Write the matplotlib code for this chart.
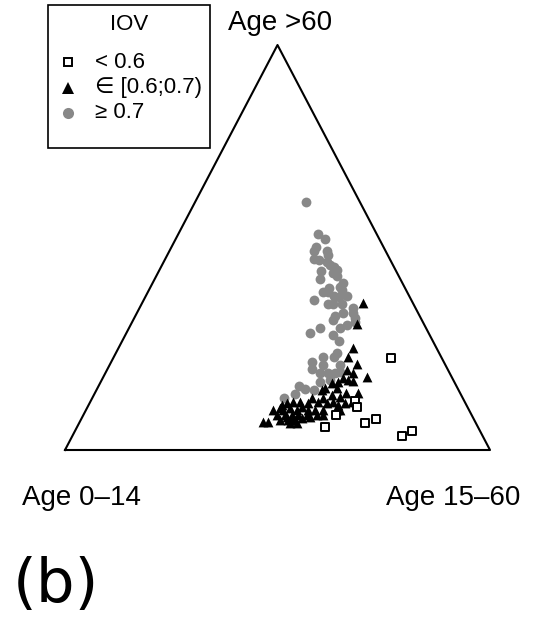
import numpy as np
import matplotlib.pyplot as plt
from matplotlib.lines import Line2D
from matplotlib.patches import Rectangle

plt.rcParams['font.family'] = ['Liberation Sans', 'DejaVu Sans']

# shares of the population (age 15-60, age >60); age 0-14 = rest
# IOV >= 0.7
hi_15 = [0.262, 0.329, 0.352, 0.340, 0.341, 0.371, 0.379, 0.351, 0.364, 0.385,
         0.396, 0.408, 0.418, 0.382, 0.412, 0.426, 0.389, 0.448, 0.446, 0.422,
         0.412, 0.424, 0.455, 0.443, 0.474, 0.456, 0.401, 0.439, 0.451, 0.472,
         0.503, 0.485, 0.470, 0.520, 0.509, 0.525, 0.510, 0.497, 0.470, 0.432,
         0.450, 0.489, 0.510, 0.520, 0.518, 0.492, 0.473, 0.502, 0.542, 0.481,
         0.505, 0.524, 0.540, 0.551, 0.516, 0.537, 0.472, 0.490, 0.512, 0.472,
         0.451]
hi_60 = [0.612, 0.533, 0.521, 0.501, 0.491, 0.491, 0.481, 0.472, 0.469, 0.464,
         0.457, 0.452, 0.444, 0.442, 0.437, 0.430, 0.422, 0.412, 0.402, 0.400,
         0.390, 0.390, 0.395, 0.380, 0.380, 0.378, 0.370, 0.360, 0.360, 0.360,
         0.351, 0.338, 0.331, 0.326, 0.338, 0.316, 0.309, 0.301, 0.321, 0.289,
         0.301, 0.284, 0.269, 0.240, 0.230, 0.230, 0.217, 0.210, 0.210, 0.200,
         0.190, 0.190, 0.190, 0.193, 0.168, 0.173, 0.158, 0.151, 0.148, 0.138,
         0.128]
# IOV in [0.6;0.7)
mid_15 = [0.520, 0.532, 0.552, 0.551, 0.581, 0.565, 0.583, 0.621, 0.565, 0.580,
          0.593, 0.559, 0.546, 0.535, 0.531, 0.564, 0.591, 0.619, 0.560, 0.582,
          0.543, 0.517, 0.616, 0.601, 0.587, 0.572, 0.559, 0.536, 0.514, 0.494,
          0.477, 0.464, 0.455, 0.598, 0.558, 0.539, 0.523, 0.505, 0.497, 0.478,
          0.464, 0.454, 0.440, 0.456, 0.475, 0.491, 0.505, 0.526, 0.550, 0.564,
          0.591, 0.469, 0.488, 0.504, 0.518, 0.536, 0.431, 0.443, 0.496, 0.513,
          0.497, 0.482]
mid_60 = [0.363, 0.311, 0.252, 0.230, 0.212, 0.198, 0.190, 0.180, 0.178, 0.173,
          0.170, 0.168, 0.165, 0.153, 0.148, 0.153, 0.141, 0.141, 0.136, 0.131,
          0.128, 0.128, 0.119, 0.116, 0.111, 0.119, 0.116, 0.119, 0.116, 0.119,
          0.119, 0.116, 0.111, 0.099, 0.099, 0.099, 0.099, 0.106, 0.099, 0.104,
          0.099, 0.104, 0.099, 0.086, 0.086, 0.086, 0.086, 0.086, 0.086, 0.086,
          0.099, 0.074, 0.074, 0.074, 0.079, 0.081, 0.069, 0.069, 0.067, 0.067,
          0.079, 0.081]
# IOV < 0.6
lo_15 = [0.654, 0.622, 0.634, 0.595, 0.584, 0.673, 0.694, 0.776, 0.793]
lo_60 = [0.227, 0.121, 0.106, 0.086, 0.057, 0.067, 0.077, 0.035, 0.047]

corner_labels = ['Age 0\u201314', 'Age 15\u201360', 'Age >60']
legend_labels = ['< 0.6', '\u2208 [0.6;0.7)', '\u2265 0.7']

W, H = 539, 620


def tern(p15, p60):
    p15 = np.asarray(p15)
    p60 = np.asarray(p60)
    return p15 + 0.5 * p60, p60


def fx(px):
    return px / W


def fy(py):
    return 1 - py / H


fig = plt.figure(figsize=(W / 100, H / 100), dpi=100)
ax = fig.add_axes([fx(65), 170 / H, 425 / W, 405 / H])
ax.set_xlim(0, 1)
ax.set_ylim(0, 1)
ax.axis('off')

ax.plot([0, 1, 0.5, 0], [0, 0, 1, 0], color='black', lw=1.5, clip_on=False)

x, y = tern(hi_15, hi_60)
ax.scatter(x, y, s=50, marker='o', color='#888888', linewidths=0, clip_on=False)
x, y = tern(mid_15, mid_60)
ax.scatter(x, y, s=50, marker='^', color='black', linewidths=0, clip_on=False)
x, y = tern(lo_15, lo_60)
ax.scatter(x, y, s=28, marker='s', facecolor='white', edgecolor='black',
           linewidths=1.4, clip_on=False)

fig.text(fx(22), fy(498), corner_labels[0], fontsize=20, va='center', ha='left')
fig.text(fx(520), fy(498), corner_labels[1], fontsize=20, va='center', ha='right')
fig.text(fx(280), fy(23), corner_labels[2], fontsize=20, va='center', ha='center')

# legend box drawn by hand
fig.add_artist(Rectangle((fx(48), fy(148)), 162 / W, 143 / H, transform=fig.transFigure,
                         facecolor='white', edgecolor='black', lw=1.2))
fig.text(fx(129), fy(25), 'IOV', fontsize=16, ha='center', va='center')
styles = [dict(marker='s', ms=6, mfc='white', mec='black', mew=1.4),
          dict(marker='^', ms=8, mfc='black', mec='black', mew=0),
          dict(marker='o', ms=8, mfc='#888888', mec='#888888', mew=0)]
for row, (lab, st) in enumerate(zip(legend_labels, styles)):
    yy = fy(62 + row * 25.5)
    fig.add_artist(Line2D([fx(68)], [yy], ls='none', transform=fig.transFigure, **st))
    fig.text(fx(95), yy, lab, fontsize=16, ha='left', va='center')

fig.text(fx(13), fy(585), '(b)', fontsize=44, family='DejaVu Sans',
         va='center', ha='left')

fig.savefig('out.png', dpi=100)
